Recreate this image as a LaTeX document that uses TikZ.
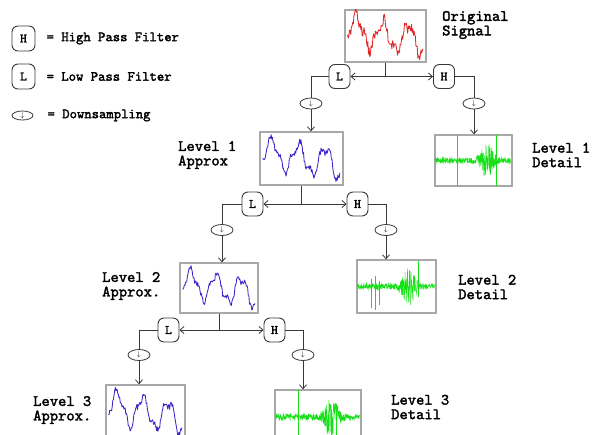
\documentclass[tikz,border=0pt]{standalone}
\usepackage{fontspec}
\newfontfamily\labfont{lmmono10-regular.otf}[FakeBold=2]
\usetikzlibrary{arrows.meta, shapes.geometric, positioning}
\definecolor{SIGgray}{HTML}{A8A8A8}
\definecolor{SIGred}{HTML}{E02828}
\definecolor{SIGblue}{HTML}{3A24C8}
\definecolor{SIGgreen}{HTML}{18E018}
\definecolor{LINEgray}{HTML}{383838}

% smooth-ish approximation signal inside a box node
\newcommand{\approxwave}[6]{%
  \begin{scope}[shift={(#1.west)}]
    \pgfmathsetseed{#5}
    \draw[#4, line width=0.85pt, line join=round] plot[domain=0.04:0.97, samples=120]
      ({\x*#2}, {-#3*0.62*(0.42*sin(1116*\x-77)+0.14*sin(3000*\x+40)-0.4*(\x-0.5)+#6*rand)});
  \end{scope}}
% noisy detail signal with a burst and some spikes
\newcommand{\detailwave}[6]{%
  \begin{scope}[shift={(#1.west)}]
    \pgfmathsetseed{#5}
    \draw[SIGgreen, line width=0.5pt] plot[domain=0.01:0.99, samples=300]
      ({\x*#2}, {#3*0.5*(0.1+0.65*exp(0-((\x-#4)*(\x-#4)/0.008)))*rand});
    \foreach \t/\a/\b in {#6}
      \draw[SIGgreen, line width=0.7pt] (\t*#2, -\a*#3*0.5) -- (\t*#2, \b*#3*0.5);
  \end{scope}}

\begin{document}
\begin{tikzpicture}[x=1pt, y=-1pt,
    sigbox/.style={draw=SIGgray, line width=1.3pt, inner sep=0pt},
    filt/.style={draw=LINEgray, line width=0.9pt, rounded corners=6pt,
      minimum width=21pt, minimum height=24pt, inner sep=0pt,
      font=\labfont\fontsize{13}{13}\selectfont},
    down/.style={draw=LINEgray, ellipse, line width=0.8pt, minimum width=22pt,
      minimum height=11pt, inner sep=0pt, font=\fontsize{7}{7}\selectfont},
    conn/.style={draw=LINEgray, line width=0.8pt},
    arr/.style={conn, -{Straight Barb[length=4pt, width=7pt]}},
    lab/.style={font=\labfont\fontsize{15.8}{14.5}\selectfont,
      align=left, anchor=west, inner sep=0pt},
    legtxt/.style={font=\labfont\fontsize{14}{14}\selectfont,
      anchor=west, inner sep=0pt}]
  \useasboundingbox (0,0) rectangle (594,434);
  \clip (0,0) rectangle (594,434);

  % Legend
  \node[filt, minimum width=23pt, minimum height=25pt] (legH) at (23.5,38.5) {H};
  \node[filt, minimum width=23pt, minimum height=25pt] (legL) at (23.5,76.5) {L};
  \node[down, minimum width=21pt, minimum height=9pt] (legD) at (22.5,115.5) {$\downarrow$};
  \node[legtxt, right=11pt of legH] (legHtxt) {= High Pass Filter};
  \node[legtxt, right=11pt of legL] (legLtxt) {= Low Pass Filter};
  \node[legtxt, right=14pt of legD] (legDtxt) {= Downsampling};

  % Signal boxes
  \node[sigbox, minimum width=81pt, minimum height=52pt] (orig) at (385.5,36) {};
  \node[sigbox, minimum width=83pt, minimum height=53pt] (A1) at (301.5,158.5) {};
  \node[sigbox, minimum width=77pt, minimum height=51pt] (T1) at (473.5,160.5) {};
  \node[sigbox, minimum width=78pt, minimum height=50pt] (A2) at (219,288) {};
  \node[sigbox, minimum width=79pt, minimum height=53pt] (T2) at (396.5,286.5) {};
  \node[sigbox, minimum width=79pt, minimum height=55pt] (A3) at (145.5,412.5) {};
  \node[sigbox, minimum width=86pt, minimum height=54pt] (T3) at (318,417) {};

  % Waveforms
  \approxwave{orig}{81}{52}{SIGred}{7}{0.16}
  \approxwave{A1}{83}{53}{SIGblue}{11}{0.09}
  \approxwave{A2}{78}{50}{SIGblue}{23}{0.09}
  \approxwave{A3}{79}{55}{SIGblue}{31}{0.09}
  \detailwave{T1}{77}{51}{0.68}{5}{0.30/1/1, 0.80/1/1}
  \detailwave{T2}{79}{53}{0.66}{9}{0.19/0.3/0.8, 0.24/0.4/0.9, 0.29/0.2/0.7, 0.78/0.95/0.4}
  \detailwave{T3}{86}{54}{0.66}{13}{0.28/1/1, 0.72/0.5/0.9}

  % Filters and downsamplers
  \node[filt] (L1) at (339.5,76.5) {L};
  \node[filt] (H1) at (444,76.5) {H};
  \node[down] (D1) at (311,103.5) {$\downarrow$};
  \node[down] (DH1) at (474,103.5) {$\downarrow$};
  \node[filt] (L2) at (252.5,204) {L};
  \node[filt] (H2) at (357.5,204) {H};
  \node[down] (D2) at (222,230) {$\downarrow$};
  \node[down] (DH2) at (386,230) {$\downarrow$};
  \node[filt] (L3) at (168.5,330) {L};
  \node[filt] (H3) at (274.5,330) {H};
  \node[down] (D3) at (139,355) {$\downarrow$};
  \node[down] (DH3) at (303,355) {$\downarrow$};

  % Connectors, one level at a time
  \foreach \src/\i in {orig/1, A1/2, A2/3} {
    \coordinate (j\i) at (\src.south |- L\i);
    \draw[conn] (\src.south) -- (j\i);
    \draw[arr] (j\i) -- (L\i.east);
    \draw[arr] (j\i) -- (H\i.west);
    \draw[conn] (L\i.west) -| (D\i.north);
    \draw[conn] (H\i.east) -| (DH\i.north);
    \draw[arr] (D\i.south) -- (D\i.south |- A\i.north);
    \draw[arr] (DH\i.south) -- (DH\i.south |- T\i.north);
  }

  % Labels
  \node[lab] (origlab) at (442,25) {Original\\Signal};
  \node[lab] (A1lab) at (178,155) {Level 1\\Approx};
  \node[lab] (T1lab) at (532,155) {Level 1\\Detail};
  \node[lab] (A2lab) at (102,286) {Level 2\\Approx.};
  \node[lab] (T2lab) at (458,287) {Level 2\\Detail};
  \node[lab] (A3lab) at (33,410) {Level 3\\Approx.};
  \node[lab] (T3lab) at (391,407) {Level 3\\Detail};
\end{tikzpicture}
\end{document}
